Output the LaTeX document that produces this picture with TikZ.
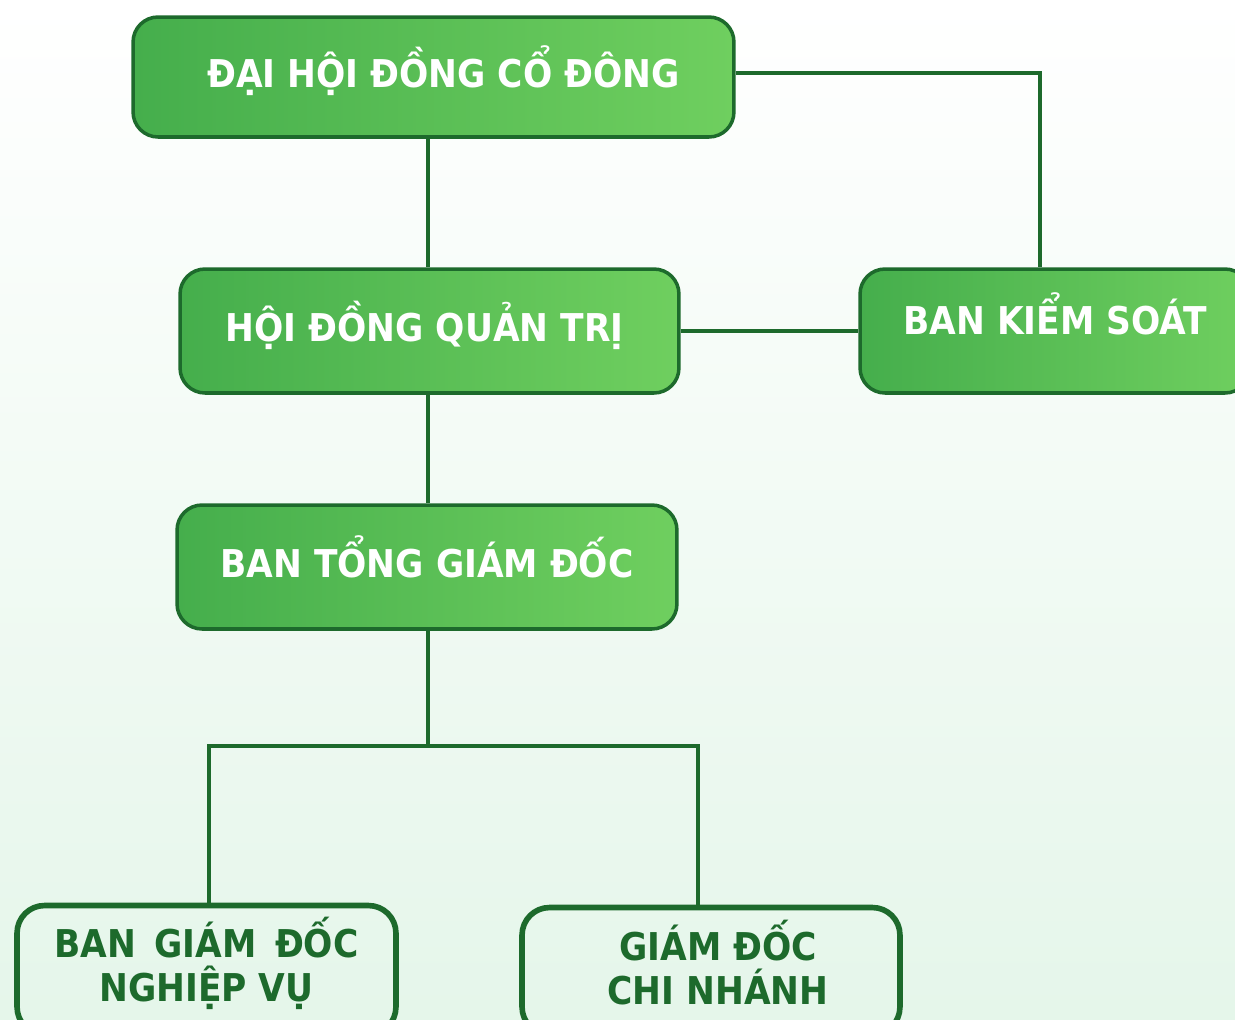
\documentclass[tikz,border=0pt]{standalone}
\usepackage{fontspec}
\setmainfont{DejaVu Sans Condensed}
\usepackage{tikz}

\definecolor{darkgreen}{HTML}{1D6A2C}
\definecolor{leafleft}{HTML}{45AE4C}
\definecolor{leafright}{HTML}{6FCF5F}
\definecolor{mintbg}{HTML}{E5F6EA}

\tikzset{
  greenbox/.style={draw=darkgreen, line width=2pt, rounded corners=0.5cm,
    left color=leafleft, right color=leafright, text=white,
    font=\bfseries\fontsize{21.8}{25}\selectfont, text height=12.5pt, text depth=0pt},
  paleBox/.style={draw=darkgreen, line width=3.2pt, rounded corners=0.55cm,
    text=darkgreen, font=\bfseries\fontsize{21.8}{25}\selectfont, align=center, text depth=0pt},
  link/.style={draw=darkgreen, line width=2.8pt}
}

\begin{document}
\begin{tikzpicture}[x=0.02cm, y=-0.02cm]
            \useasboundingbox (0,0) rectangle (1235,1019);
            \shade[top color=white, bottom color=mintbg] (0,0) rectangle (1235,1019);
            \node[greenbox, minimum width=12.02cm, minimum height=2.4cm] (dhdcd) at (433.5,77) {\hspace*{0.4cm}ĐẠI HỘI ĐỒNG CỔ ĐÔNG};
            \node[greenbox, minimum width=9.98cm, minimum height=2.48cm] (hdqt) at (429.5,331) {HỘI ĐỒNG QUẢN TRỊ\hspace*{0.2cm}};
            \node[greenbox, minimum width=7.8cm, minimum height=2.48cm, text height=3.5pt] (bks) at (1055,331) {BAN KIỂM SOÁT};
            \node[greenbox, minimum width=10cm, minimum height=2.48cm] (btgd) at (427,567) {BAN TỔNG GIÁM ĐỐC};
            \node[paleBox, minimum width=7.58cm, minimum height=2.58cm, text height=35.9pt] (bgdnv) at (206.5,970) {BAN \,GIÁM \,ĐỐC\\NGHIỆP VỤ};
            \node[paleBox, minimum width=7.56cm, minimum height=2.54cm, text height=38.5pt] (gdcn) at (711,971) {\hspace{8pt}GIÁM ĐỐC\\\hspace{8pt}CHI NHÁNH};
            \coordinate (fork) at (428,746);
            \draw[link] (dhdcd.south -| fork) -- (hdqt.north -| fork);
            \draw[link] (dhdcd.east |- 0,73) -| (bks.north -| 1040,0);
            \draw[link] (hdqt.east) -- (bks.west);
            \draw[link] (hdqt.south -| fork) -- (btgd.north -| fork);
            \draw[link] (btgd.south -| fork) -- (fork);
            \draw[link] (bgdnv.north -| 209,0) |- (fork) -| (gdcn.north -| 698,0);
\end{tikzpicture}
\end{document}
